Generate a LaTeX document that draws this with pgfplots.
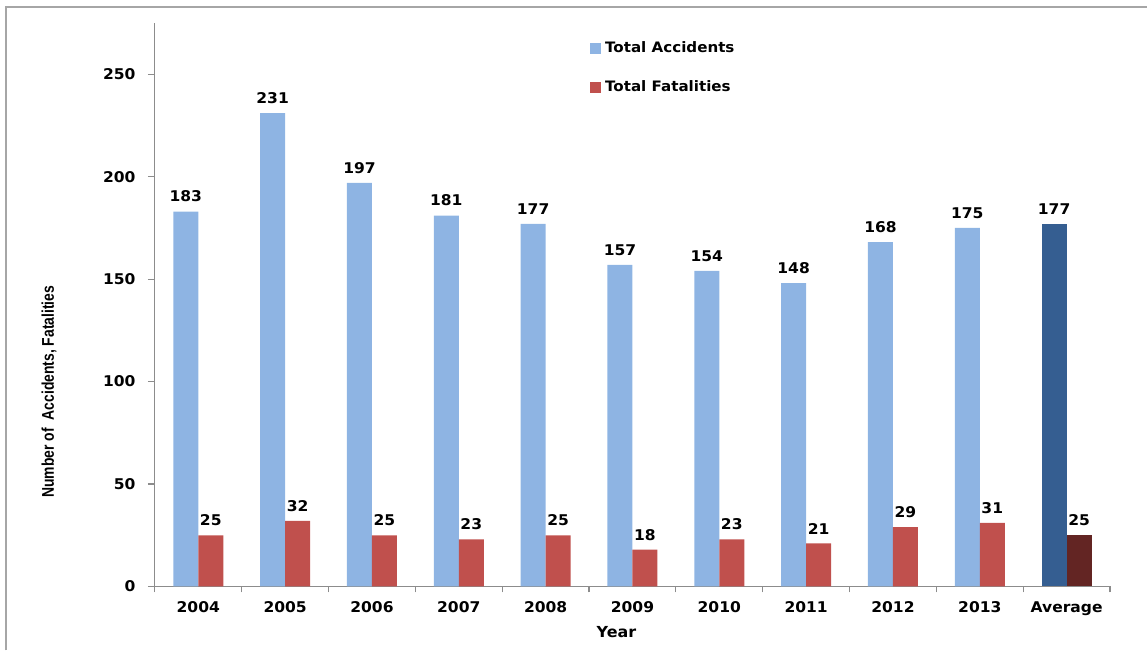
\documentclass[border=0pt]{standalone}
\usepackage{fontspec}
\usepackage{pgfplots}
\pgfplotsset{compat=1.18}
\setmainfont{DejaVu Sans}
\newfontfamily\lblfont[FakeStretch=1.05]{DejaVu Sans Bold}
\newfontfamily\narrowfont[FakeStretch=0.82]{Liberation Sans Bold}
\definecolor{accblue}{HTML}{8EB4E3}
\definecolor{fatred}{HTML}{C0504D}
\definecolor{avgblue}{HTML}{355E91}
\definecolor{avgred}{HTML}{632523}
\definecolor{axgray}{HTML}{8C8C8C}
\pgfplotstableread{
x acc fat
0 183 25
1 231 32
2 197 25
3 181 23
4 177 25
5 157 18
6 154 23
7 148 21
8 168 29
9 175 31
}\yearsdata
\pgfplotstableread{
x acc fat
10 177 25
}\avgdata
\begin{document}
\begin{tikzpicture}
\path (0,0) rectangle (574pt,-325.5pt);
\draw[color=gray!70, line width=1pt] (3pt,-325.5pt) -- (3pt,-3.5pt) -- (574pt,-3.5pt);
\begin{axis}[
  at={(77.5pt,-293.5pt)}, anchor=south west,
  scale only axis, width=478pt, height=282pt,
  xmin=-0.5, xmax=10.5, ymin=0, ymax=275,
  axis lines*=left,
  axis line style={color=axgray, line width=0.6pt},
  xtick={0,...,10},
  xticklabels={2004,2005,2006,2007,2008,2009,2010,2011,2012,2013,Average},
  major x tick style={draw=none},
  minor xtick={-0.5,0.5,...,10.5},
  minor tick length=3pt,
  minor x tick style={color=axgray, line width=0.6pt},
  ytick={0,50,...,250},
  major tick length=3.5pt,
  tick align=outside,
  y tick style={color=axgray, line width=0.6pt},
  tick label style={font=\lblfont\fontsize{7.4}{8}\selectfont},
  yticklabel style={inner sep=0pt, xshift=-6pt},
  xticklabel style={inner sep=0pt, yshift=-4pt, anchor=north},
  /pgf/number format/assume math mode=true,
  legend style={at={(0.449,0.982)}, anchor=north west, draw=none, fill=none,
    font=\lblfont\fontsize{7.2}{8}\selectfont, row sep=8.5pt,
    /tikz/every even column/.append style={column sep=1pt}},
  legend cell align=left,
  legend image code/.code={\fill[#1] (0pt,-2.7pt) rectangle (5.5pt,2.7pt);},
  nodes near coords,
  nodes near coords style={font=\lblfont\fontsize{7.4}{8}\selectfont, inner sep=0pt, yshift=4.5pt, text=black},
  clip=false,
]
\addplot[ybar, bar width=12.5pt, bar shift=-6.25pt, fill=accblue, draw=none,
  every node near coord/.append style={xshift=-6.25pt}] table[x=x, y=acc] {\yearsdata};
\addlegendentry{Total Accidents}
\addplot[ybar, bar width=12.5pt, bar shift=6.25pt, fill=fatred, draw=none,
  every node near coord/.append style={xshift=6.25pt}] table[x=x, y=fat] {\yearsdata};
\addlegendentry{Total Fatalities}
\addplot[ybar, bar width=12.5pt, bar shift=-6.25pt, fill=avgblue, draw=none, forget plot,
  every node near coord/.append style={xshift=-6.25pt}] table[x=x, y=acc] {\avgdata};
\addplot[ybar, bar width=12.5pt, bar shift=6.25pt, fill=avgred, draw=none, forget plot,
  every node near coord/.append style={xshift=6.25pt}] table[x=x, y=fat] {\avgdata};
\end{axis}
\node[font=\lblfont\fontsize{7.6}{9}\selectfont] at (308.5pt,-316.5pt) {Year};
\node[rotate=90, font=\narrowfont\fontsize{8.5}{10}\selectfont] at (24.5pt,-196pt) {Number of\ \ Accidents, Fatalities};
\end{tikzpicture}
\end{document}
